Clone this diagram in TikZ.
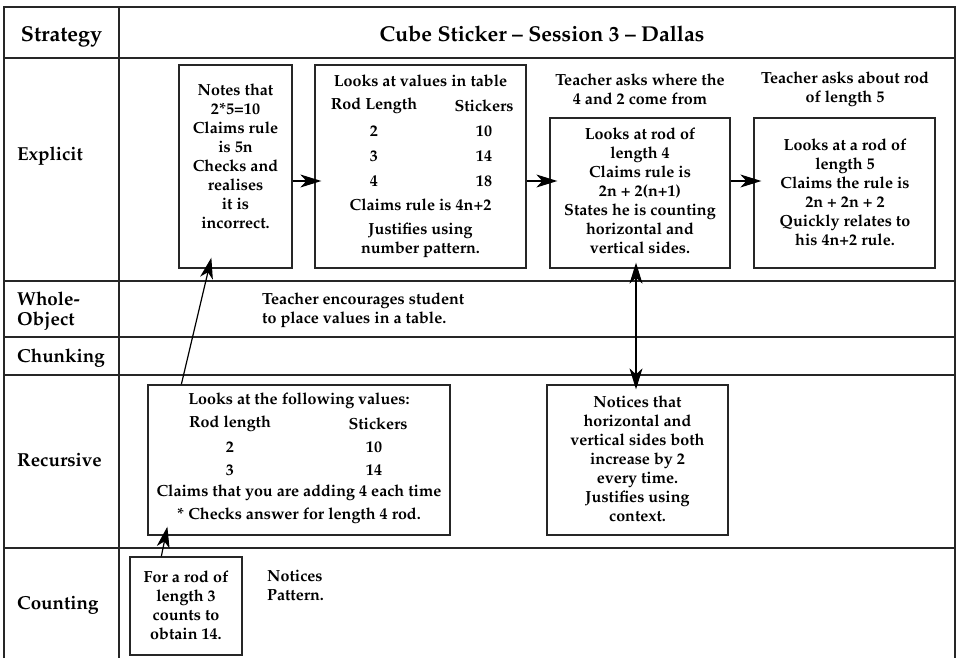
\documentclass[tikz,border=0pt]{standalone}
\usepackage[T1]{fontenc}
\usepackage{mathpazo}
\usetikzlibrary{arrows.meta,calc}

\newcommand\bxfont{\fontsize{16.1}{19}\selectfont\bfseries}
\newcommand\hdfont{\fontsize{21.5}{24}\selectfont\bfseries}
\newcommand\rlfont{\fontsize{18.8}{20}\selectfont\bfseries}

\begin{document}
\begin{tikzpicture}[x=1pt,y=-1pt,
  grid/.style={line width=1.3pt, draw=black!85},
  box/.style={draw=black!85, line width=1.3pt, inner sep=0pt, rectangle},
  txt/.style={font=\bxfont, align=center, inner sep=0pt},
  head/.style={font=\hdfont, inner sep=0pt, anchor=base},
  rowlbl/.style={font=\rlfont, inner sep=0pt, anchor=base west},
  >={Stealth[length=21pt,width=13pt,inset=6pt]},
  arr/.style={->, line width=1.2pt},
  darr/.style={<->, line width=1.2pt}]

\useasboundingbox (0,0) rectangle (957,658);

% table frame and rulings
\draw[grid] (4,658) -- (4,7) -- (955,7) -- (955,658);
\draw[grid] (119,7) -- (119,658);
\foreach \yy in {58,281,337,375,548}
  \draw[grid] (4,\yy) -- (955,\yy);

% header
\node[head] (hstrat) at (61.5,42) {Strategy};
\node[head] (htitle) at (542,42) {Cube Sticker -- Session 3 -- Dallas};

% row labels
\node[rowlbl] (rexp) at (17,160) {Explicit};
\node[rowlbl] (rwho) at (17,305) {Whole-};
\node[rowlbl] (rwho2) at (17,325) {Object};
\node[rowlbl] (rchu) at (17,362) {Chunking};
\node[rowlbl] (rrec) at (17,466) {Recursive};
\node[rowlbl] (rcou) at (17,609) {Counting};

% Explicit row boxes
\node[box, minimum width=113pt, minimum height=203pt] (A) at (235.5,166.5) {};
\node[txt] (Atxt) at (235.5,156) {Notes that\\2*5=10\\Claims rule\\is 5n\\Checks and\\realises\\it is\\incorrect.};

\node[box, minimum width=211pt, minimum height=203pt] (B) at (420.5,166.5) {};
\node[txt] (Bt0) at (420.5,81) {Looks at values in table};
\node[txt] (Bh1) at (374,106) {Rod Length};
\node[txt] (Bh2) at (484,106) {Stickers};
\node[txt] (Bl2) at (374,131) {2};
\node[txt] (Bs2) at (484,131) {10};
\node[txt] (Bl3) at (374,156) {3};
\node[txt] (Bs3) at (484,156) {14};
\node[txt] (Bl4) at (374,181) {4};
\node[txt] (Bs4) at (484,181) {18};
\node[txt] (Bt1) at (420.5,205) {Claims rule is 4n+2};
\node[txt] (Bt2) at (420.5,240) {Justifies using\\number pattern.};

\node[txt] (Tq1) at (640,89.5) {Teacher asks where the\\4 and 2 come from};
\node[box, minimum width=180pt, minimum height=150pt] (C) at (640,193) {};
\node[txt] (Ctxt) at (640,191) {Looks at rod of\\length 4\\Claims rule is\\2n + 2(n+1)\\States he is counting\\horizontal and\\vertical sides.};

\node[txt] (Tq2) at (845,89.5) {Teacher asks about rod\\of length 5};
\node[box, minimum width=181pt, minimum height=150pt] (D) at (844.5,193) {};
\node[txt] (Dtxt) at (845,192) {Looks at a rod of\\length 5\\Claims the rule is\\2n + 2n + 2\\Quickly relates to\\his 4n+2 rule.};

% Whole-Object row
\node[txt, align=left, anchor=west] (Wtxt) at (262,310.5) {Teacher encourages student\\to place values in a table.};

% Recursive row
\node[box, minimum width=302pt, minimum height=150pt] (E) at (299,460) {};
\node[txt] (Et0) at (299,401) {Looks at the following values:};
\node[txt] (Eh1) at (230,424) {Rod length};
\node[txt] (Eh2) at (378,424) {Stickers};
\node[txt] (El2) at (230,447) {2};
\node[txt] (Es2) at (374,447) {10};
\node[txt] (El3) at (230,470) {3};
\node[txt] (Es3) at (374,470) {14};
\node[txt] (Et1) at (299,493) {Claims that you are adding 4 each time};
\node[txt] (Et2) at (299,516) {* Checks answer for length 4 rod.};

\node[box, minimum width=181pt, minimum height=150pt] (F) at (637.5,460) {};
\node[txt] (Ftxt) at (637.5,458.5) {Notices that\\horizontal and\\vertical sides both\\increase by 2\\every time.\\Justifies using\\context.};

% Counting row
\node[box, minimum width=112pt, minimum height=98pt] (G) at (186,606) {};
\node[txt] (Gtxt) at (186,605) {For a rod of\\length 3\\counts to\\obtain 14.};
\node[txt, align=left, anchor=west] (Ntxt) at (267,585.5) {Notices\\Pattern.};

% connectors
\coordinate (ya) at (0,181);
\draw[arr, shorten >=-7pt] (A.east |- ya) -- (B.west |- ya);
\draw[arr, shorten >=-8pt] (B.east |- ya) -- (C.west |- ya);
\draw[arr, shorten >=-8pt] (C.east |- ya) -- (D.west |- ya);

\draw[arr] ($(E.north west)+(34,0)$) -- ($(A.south west)+(33,-11)$);
\draw[arr] ($(G.north west)+(32,0)$) -- ($(E.south west)+(20,-9)$);

\coordinate (vx) at (636,0);
\draw[darr, shorten <=-6pt, shorten >=-5pt] (vx |- C.south) -- (vx |- F.north);
\end{tikzpicture}
\end{document}
